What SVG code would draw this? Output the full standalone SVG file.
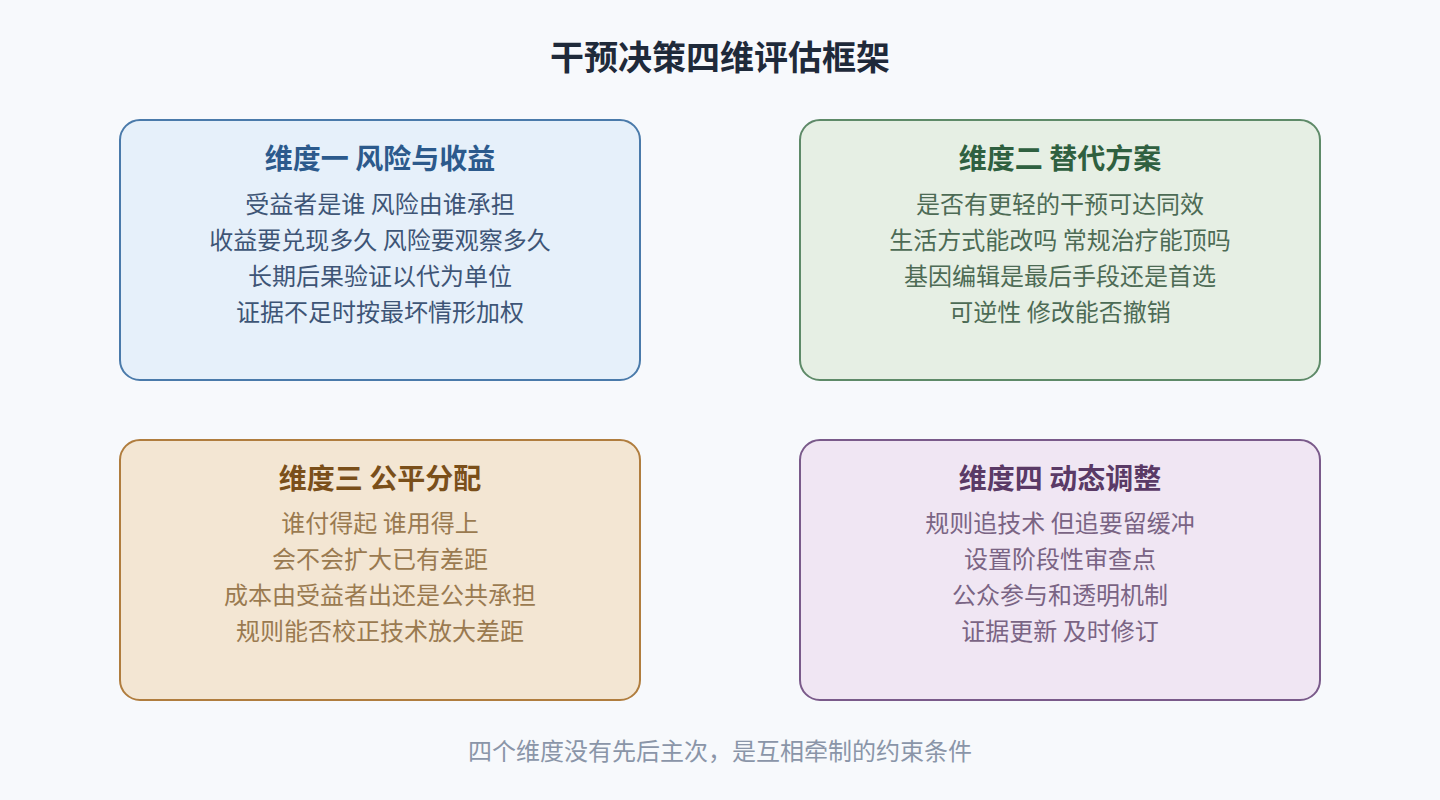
<svg xmlns="http://www.w3.org/2000/svg" width="1440" height="800" viewBox="0 0 1440 800">
<style>
text { font-family: "Noto Sans CJK SC", "Noto Sans", sans-serif; text-anchor: middle; }
.title { font-size: 34px; font-weight: 700; fill: #1f2a3a; }
.head { font-size: 28px; font-weight: 700; }
.body { font-size: 24px; }
.foot { font-size: 24px; fill: #8a95a8; }
.box { stroke-width: 2; }
</style>
<rect width="1440" height="800" fill="#f7f9fc"/>
<text class="title" x="720" y="70">干预决策四维评估框架</text>
<g id="dim1">
<rect class="box" x="120" y="120" width="520" height="260" rx="20" fill="#e6f0fa" stroke="#4a7aaa"/>
<text class="head" x="380" y="169" fill="#2c5a8c">维度一 风险与收益</text>
<g class="body" fill="#3e5576">
<text x="380" y="213">受益者是谁 风险由谁承担</text>
<text x="380" y="249">收益要兑现多久 风险要观察多久</text>
<text x="380" y="285">长期后果验证以代为单位</text>
<text x="380" y="321">证据不足时按最坏情形加权</text>
</g>
</g>
<g id="dim2">
<rect class="box" x="800" y="120" width="520" height="260" rx="20" fill="#e6efe4" stroke="#5e8a68"/>
<text class="head" x="1060" y="169" fill="#2f6040">维度二 替代方案</text>
<g class="body" fill="#4d6b55">
<text x="1060" y="213">是否有更轻的干预可达同效</text>
<text x="1060" y="249">生活方式能改吗 常规治疗能顶吗</text>
<text x="1060" y="285">基因编辑是最后手段还是首选</text>
<text x="1060" y="321">可逆性 修改能否撤销</text>
</g>
</g>
<g id="dim3">
<rect class="box" x="120" y="440" width="520" height="260" rx="20" fill="#f3e6d3" stroke="#b07d3e"/>
<text class="head" x="380" y="489" fill="#7a4f1a">维度三 公平分配</text>
<g class="body" fill="#9a7a50">
<text x="380" y="532">谁付得起 谁用得上</text>
<text x="380" y="568">会不会扩大已有差距</text>
<text x="380" y="604">成本由受益者出还是公共承担</text>
<text x="380" y="640">规则能否校正技术放大差距</text>
</g>
</g>
<g id="dim4">
<rect class="box" x="800" y="440" width="520" height="260" rx="20" fill="#f0e6f3" stroke="#7a5a8a"/>
<text class="head" x="1060" y="489" fill="#5a3a66">维度四 动态调整</text>
<g class="body" fill="#7a6484">
<text x="1060" y="532">规则追技术 但追要留缓冲</text>
<text x="1060" y="568">设置阶段性审查点</text>
<text x="1060" y="604">公众参与和透明机制</text>
<text x="1060" y="640">证据更新 及时修订</text>
</g>
</g>
<g id="connectors"/>
<text class="foot" x="720" y="760">四个维度没有先后主次，是互相牵制的约束条件</text>
</svg>
